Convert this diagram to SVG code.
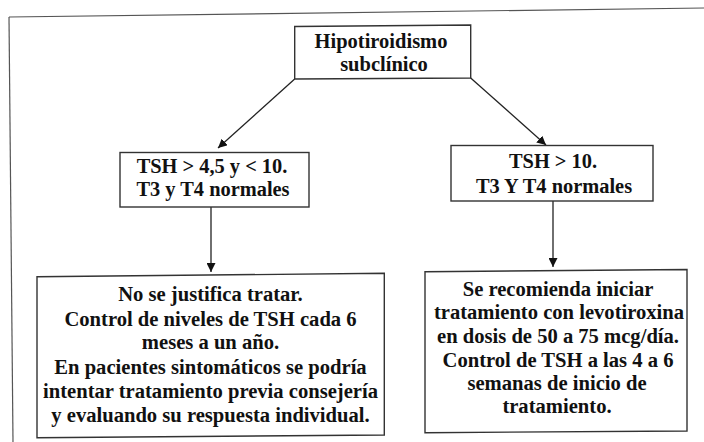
<svg xmlns="http://www.w3.org/2000/svg" width="704" height="442" viewBox="0 0 704 442">
<style>
.box{fill:#fff;stroke:#333;stroke-width:1.4}
.frame{fill:none;stroke:#555;stroke-width:1.2}
.conn{fill:none;stroke:#222;stroke-width:1.3}
.lbl{font-weight:bold;fill:#111;text-anchor:middle}
.t1{font-size:20.5px}
.t2{font-size:20.4px}
.t3{font-size:20.6px}
</style>
<defs>
<marker id="arr" viewBox="0 0 10 10" refX="10" refY="5" markerWidth="9" markerHeight="9" markerUnits="userSpaceOnUse" orient="auto">
<path d="M0,0 L10,5 L0,10 z" fill="#111"/>
</marker>
</defs>
<rect width="704" height="442" fill="#fff"/>
<g id="frame">
<path class="frame" d="M9,17 L704,8"/>
<path class="frame" d="M9,17 L13,442"/>
</g>
<g id="connectors">
<path class="conn" d="M294.7,79 L218,148" marker-end="url(#arr)"/>
<path class="conn" d="M470.7,78 L546,145" marker-end="url(#arr)"/>
<path class="conn" d="M211,207 L211,272" marker-end="url(#arr)"/>
<path class="conn" d="M553,201 L553,267" marker-end="url(#arr)"/>
</g>
<g font-family="'Liberation Serif', 'DejaVu Serif', 'Times New Roman', serif">
<g id="n-top">
<path class="box" d="M294.7,26.5 L470.7,25 L470.7,78 L294.7,79 Z"/>
<text class="lbl t1" x="381" y="48">Hipotiroidismo</text>
<text class="lbl t1" x="384" y="70.5">subclínico</text>
</g>
<g id="n-left">
<rect class="box" x="120" y="152.5" width="189" height="54.5"/>
<text class="lbl t2" x="212" y="172.7">TSH &gt; 4,5 y &lt; 10.</text>
<text class="lbl t2" x="213" y="196">T3 y T4 normales</text>
</g>
<g id="n-right">
<rect class="box" x="451" y="145.5" width="202" height="55.5"/>
<text class="lbl t2" x="553" y="168.3">TSH &gt; 10.</text>
<text class="lbl t2" x="554" y="193.3">T3 Y T4 normales</text>
</g>
<g id="n-left-bottom">
<path class="box" d="M37,276.7 L384.3,273.3 L384.3,435 L37,437.7 Z"/>
<text class="lbl t3" x="210.5" y="300.7">No se justifica tratar.</text>
<text class="lbl t3" x="210.5" y="325.7">Control de niveles de TSH cada 6</text>
<text class="lbl t3" x="210.5" y="349.3">meses a un año.</text>
<text class="lbl t3" x="210.5" y="374">En pacientes sintomáticos se podría</text>
<text class="lbl t3" x="210.5" y="398.3">intentar tratamiento previa consejería</text>
<text class="lbl t3" x="210.5" y="421.7">y evaluando su respuesta individual.</text>
</g>
<g id="n-right-bottom">
<path class="box" d="M425,271.7 L687,269.5 L687,431 L425,432.7 Z"/>
<text class="lbl t3" x="558" y="295.7">Se recomienda iniciar</text>
<text class="lbl t3" x="559" y="319">tratamiento con levotiroxina</text>
<text class="lbl t3" x="558" y="343.3">en dosis de 50 a 75 mcg/día.</text>
<text class="lbl t3" x="558" y="366.7">Control de TSH a las 4 a 6</text>
<text class="lbl t3" x="557" y="390">semanas de inicio de</text>
<text class="lbl t3" x="557" y="413.3">tratamiento.</text>
</g>
</g>
</svg>
